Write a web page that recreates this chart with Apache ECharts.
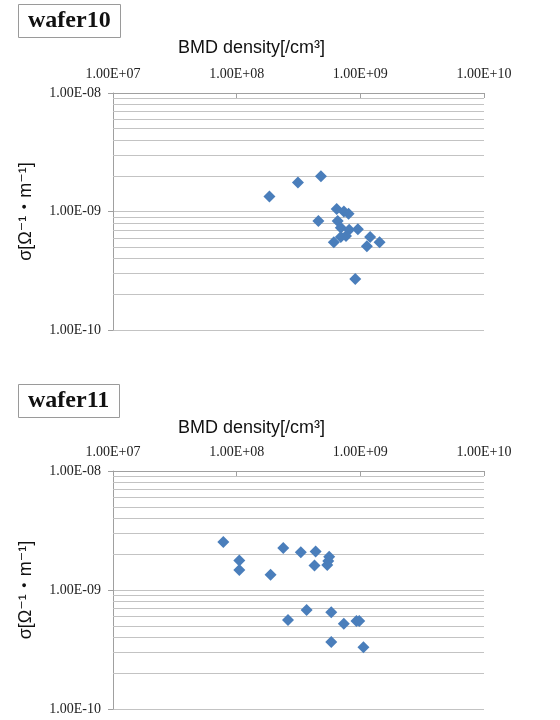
<!DOCTYPE html>
<html>
<head>
<meta charset="utf-8">
<script src="https://cdn.jsdelivr.net/npm/echarts@6/dist/echarts.min.js"></script>
<style>
  html, body { margin: 0; padding: 0; background: #fff; }
  #chart { width: 560px; height: 720px; }
</style>
</head>
<body>
<div id="chart"></div>
<script>
// wafer10: BMD density [/cm3] vs sigma
const wafer10Bmd = [1.84e8, 3.13e8, 4.8e8, 4.58e8, 6.44e8, 7.36e8, 8.03e8, 6.56e8, 6.95e8,
  8.13e8, 9.55e8, 6.95e8, 7.66e8, 6.1e8, 1.2e9, 1.13e9, 1.43e9, 9.1e8];
const wafer10Sigma = [1.34e-9, 1.76e-9, 1.98e-9, 0.83e-9, 1.05e-9, 1.0e-9, 0.955e-9, 0.83e-9, 0.73e-9,
  0.70e-9, 0.71e-9, 0.61e-9, 0.62e-9, 0.55e-9, 0.61e-9, 0.51e-9, 0.55e-9, 0.27e-9];

// wafer11
const wafer11Bmd = [7.8e7, 1.05e8, 1.05e8, 1.88e8, 2.38e8, 3.3e8, 4.35e8, 4.26e8, 5.4e8, 5.6e8,
  5.5e8, 3.68e8, 2.6e8, 5.82e8, 7.35e8, 9.3e8, 9.8e8, 5.82e8, 1.06e9];
const wafer11Sigma = [2.53e-9, 1.77e-9, 1.47e-9, 1.34e-9, 2.25e-9, 2.08e-9, 2.11e-9, 1.61e-9, 1.62e-9, 1.9e-9,
  1.75e-9, 0.68e-9, 0.56e-9, 0.65e-9, 0.52e-9, 0.55e-9, 0.55e-9, 0.366e-9, 0.33e-9];

const panelTitles = ["wafer10", "wafer11"];
const xName = "BMD density[/cm³]";
const yName = "σ[Ω⁻¹・m⁻¹]";

// axis ranges
const xMin = 1e7;
const xMax = 1e10;
const yMin = 1e-10;
const yMax = 1e-8;

// minor log grid lines (2..9 within each decade)
const decades = [1e-10, 1e-9];
const minorSteps = [2, 3, 4, 5, 6, 7, 8, 9];

const blue = "#4a7ebb";
const gridColor = "#c3c3c3";
const axisColor = "#a0a0a0";
const labelFont = "Liberation Serif";

function sci(v) {
  const e = Math.round(Math.log10(v));
  return "1.00E" + (e < 0 ? "-" : "+") + String(Math.abs(e)).padStart(2, "0");
}

// markLine yAxis-only lines break on a log x axis, so give both ends
const minorLines = [];
for (const d of decades) {
  for (const k of minorSteps) {
    minorLines.push([{ coord: [xMin, d * k] }, { coord: [xMax, d * k] }]);
  }
}

const panels = [
  { title: panelTitles[0], x: wafer10Bmd, y: wafer10Sigma, boxTop: 4, nameTop: 39, gridTop: 93, height: 237 },
  { title: panelTitles[1], x: wafer11Bmd, y: wafer11Sigma, boxTop: 384, nameTop: 419, gridTop: 471, height: 238 },
];

const title = [];
const grid = [];
const xAxis = [];
const yAxis = [];
const series = [];

panels.forEach((p, i) => {
  title.push({
    text: p.title,
    left: 18,
    top: p.boxTop,
    padding: [5, 10],
    borderColor: "#9a9a9a",
    borderWidth: 1,
    textStyle: { fontFamily: labelFont, fontWeight: "bold", fontSize: 24, color: "#111" },
  });
  title.push({
    text: xName,
    left: 178,
    top: p.nameTop,
    padding: 0,
    textStyle: { fontFamily: "Liberation Sans", fontWeight: "normal", fontSize: 18, color: "#111" },
  });

  grid.push({ left: 113, right: 76, top: p.gridTop, height: p.height });

  xAxis.push({
    type: "log",
    logBase: 10,
    gridIndex: i,
    min: xMin,
    max: xMax,
    position: "top",
    axisLine: { show: true, lineStyle: { color: axisColor } },
    axisTick: { show: true, inside: true, length: 5, lineStyle: { color: axisColor } },
    axisLabel: { margin: 12, formatter: sci, fontFamily: labelFont, fontSize: 14, color: "#222" },
    splitLine: { show: false },
  });

  yAxis.push({
    type: "log",
    logBase: 10,
    gridIndex: i,
    min: yMin,
    max: yMax,
    name: yName,
    nameLocation: "middle",
    nameRotate: 90,
    nameGap: 78,
    nameTextStyle: { fontFamily: "Liberation Sans, DejaVu Sans, Noto Sans CJK JP", fontSize: 18, color: "#111" },
    axisLine: { show: true, lineStyle: { color: axisColor } },
    axisTick: { show: true, length: 5, lineStyle: { color: axisColor } },
    axisLabel: { margin: 12, formatter: sci, fontFamily: labelFont, fontSize: 14, color: "#222" },
    splitLine: { show: true, lineStyle: { color: gridColor } },
  });

  series.push({
    type: "scatter",
    xAxisIndex: i,
    yAxisIndex: i,
    symbol: "diamond",
    symbolSize: 12,
    z: 3,
    itemStyle: { color: blue, opacity: 1 },
    data: p.x.map((v, j) => [v, p.y[j]]),
    markLine: {
      silent: true,
      symbol: "none",
      z: 1,
      label: { show: false },
      lineStyle: { color: gridColor, type: "solid", width: 1 },
      data: minorLines,
    },
  });
});

const chart = echarts.init(document.getElementById("chart"));
chart.setOption({
  animation: false,
  title,
  grid,
  xAxis,
  yAxis,
  series,
});
</script>
</body>
</html>
